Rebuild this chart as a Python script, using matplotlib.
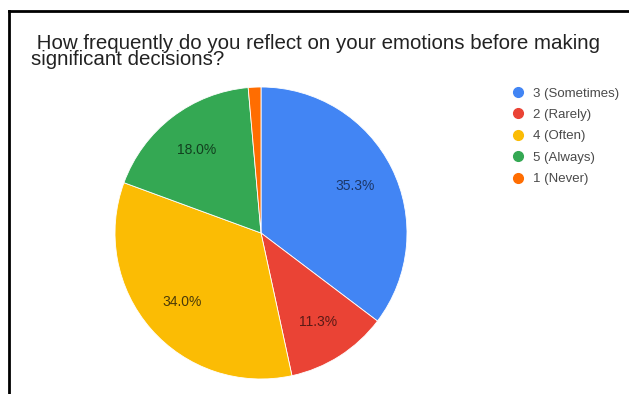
import matplotlib
matplotlib.use('Agg')
import matplotlib.pyplot as plt
from matplotlib.lines import Line2D

plt.rcParams['font.family'] = ['Liberation Sans', 'DejaVu Sans']

# survey answers, in drawing order (clockwise from 12 o'clock)
labels = ['3 (Sometimes)', '2 (Rarely)', '4 (Often)', '5 (Always)', '1 (Never)']
shares = [35.3, 11.3, 34.0, 18.0, 1.4]
colors = ['#4285F4', '#EA4335', '#FBBC04', '#34A853', '#FF6D01']
text_colors = ['#1c3768', '#5a1a16', '#4a3a08', '#12401f', '#000000']

title = ' How frequently do you reflect on your emotions before making\nsignificant decisions?'

W, H = 629, 394
fig = plt.figure(figsize=(W / 100, H / 100), dpi=100)
fig.patch.set_facecolor('white')

# frame: only the top and left edges are visible
fig.add_artist(Line2D([9 / W, 1.0], [1 - 11 / H, 1 - 11 / H], color='black', lw=2.0,
                      transform=fig.transFigure, solid_capstyle='projecting'))
fig.add_artist(Line2D([9 / W, 9 / W], [1 - 11 / H, 0.0], color='black', lw=2.0,
                      transform=fig.transFigure, solid_capstyle='projecting'))

# title, with the tight line spacing of the original
fig.text(31 / W, 1 - 34 / H, title, ha='left', va='top',
         fontsize=14.8, color='#222222', linespacing=0.81)

cx, cy, r = 261, 233, 146
ax = fig.add_axes([(cx - r) / W, (H - cy - r) / H, 2 * r / W, 2 * r / H])


def fmt(p):
    return '%.1f%%' % p if p >= 5 else ''


wedges, _, autotexts = ax.pie(shares, colors=colors, startangle=90, counterclock=False,
                              autopct=fmt, pctdistance=0.72,
                              wedgeprops=dict(linewidth=0.6, edgecolor='white'))
for t, c in zip(autotexts, text_colors):
    t.set_color(c)
    t.set_fontsize(10)
ax.set_xlim(-1, 1)
ax.set_ylim(-1, 1)
ax.set_aspect('equal')
ax.axis('off')

handles = [Line2D([], [], marker='o', linestyle='', markersize=7, markerfacecolor=c,
                  markeredgecolor=c) for c in colors]
fig.legend(handles, labels, loc='upper left', bbox_to_anchor=(511.4 / W, 1 - 87.3 / H),
           frameon=False, fontsize=9.5, labelcolor='#4a4a4a', handletextpad=0.64,
           labelspacing=0.70, handlelength=1.0, borderpad=0, borderaxespad=0)

fig.savefig('out.png', dpi=100)
